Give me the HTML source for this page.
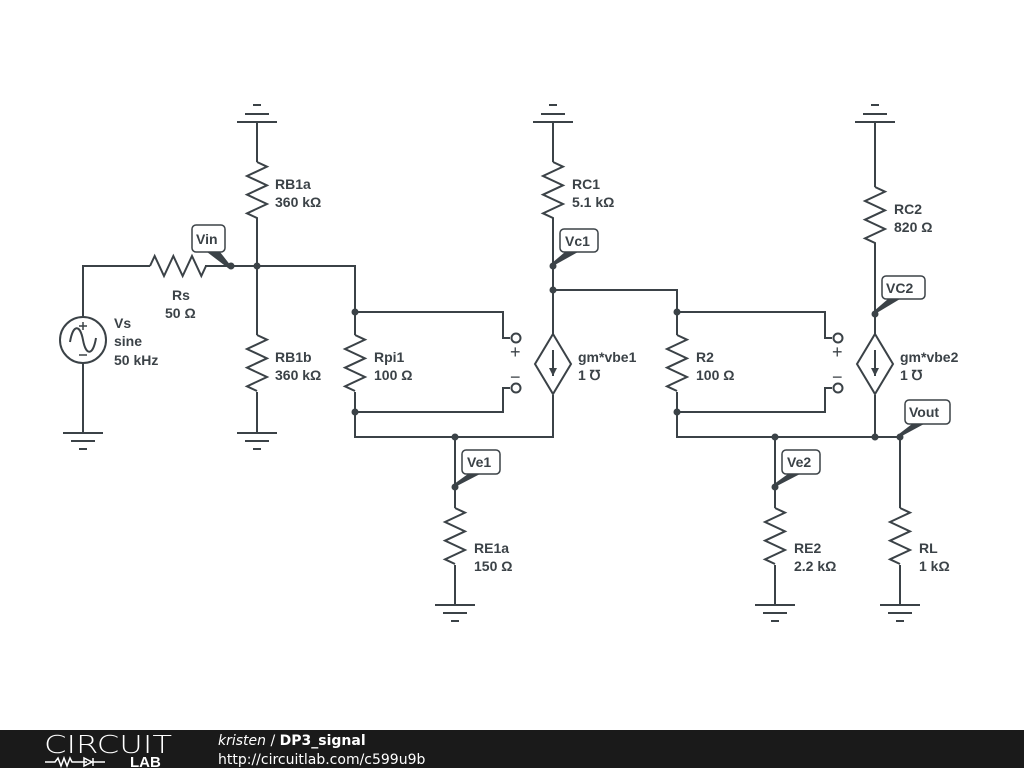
<!DOCTYPE html>
<html><head><meta charset="utf-8"><style>
body{margin:0;background:#fff;width:1024px;height:768px;overflow:hidden;font-family:"Liberation Sans",sans-serif}
svg{position:absolute;left:0;top:0}
</style></head><body>
<svg width="1024" height="768" viewBox="0 0 1024 768">
<g fill="none" stroke="#3b4247" stroke-width="2" stroke-linejoin="miter">
<path d="M253 105h8M245 114h24M237 122h40M257 122V162"/>
<path d="M549 105h8M541 114h24M533 122h40M553 122V162"/>
<path d="M871 105h8M863 114h24M855 122h40M875 122V187"/>
<path d="M63 433h40M71 441h24M79 449h8M83 433V363"/>
<path d="M237 433h40M245 441h24M253 449h8M257 433V392"/>
<path d="M435 605h40M443 613h24M451 621h8M455 605V565"/>
<path d="M755 605h40M763 613h24M771 621h8M775 605V565"/>
<path d="M880 605h40M888 613h24M896 621h8M900 605V565"/>
<path d="M257 162 l10,4.67 l-20,9.33 l20,9.33 l-20,9.33 l20,9.33 l-20,9.33 l10,4.67 V335"/>
<path d="M257 335 l10,4.67 l-20,9.33 l20,9.33 l-20,9.33 l20,9.33 l-20,9.33 l10,4.67"/>
<path d="M355 335 l10,4.67 l-20,9.33 l20,9.33 l-20,9.33 l20,9.33 l-20,9.33 l10,4.67"/>
<path d="M553 162 l10,4.67 l-20,9.33 l20,9.33 l-20,9.33 l20,9.33 l-20,9.33 l10,4.67 V334"/>
<path d="M677 335 l10,4.67 l-20,9.33 l20,9.33 l-20,9.33 l20,9.33 l-20,9.33 l10,4.67"/>
<path d="M875 187 l10,4.67 l-20,9.33 l20,9.33 l-20,9.33 l20,9.33 l-20,9.33 l10,4.67 V334"/>
<path d="M455 508 l10,4.67 l-20,9.33 l20,9.33 l-20,9.33 l20,9.33 l-20,9.33 l10,4.67"/>
<path d="M775 508 l10,4.67 l-20,9.33 l20,9.33 l-20,9.33 l20,9.33 l-20,9.33 l10,4.67"/>
<path d="M900 508 l10,4.67 l-20,9.33 l20,9.33 l-20,9.33 l20,9.33 l-20,9.33 l10,4.67"/>
<path d="M150 266 l4.67,-10 l9.33,20 l9.33,-20 l9.33,20 l9.33,-20 l9.33,20 l4.67,-10"/>
<path d="M83 317V266H150M205 266H355V335"/>
<circle cx="83" cy="340" r="23"/>
<path d="M70 342 c3,-18 10,-18 13,-2 s10,16 13,-2" />
<path d="M79 326h8M83 322v8M79 355h8" stroke-width="1.5"/>
<path d="M355 392V437H553V395M355 312H503V333M355 412H503V392M455 437V508M553 290H677V335"/>
<circle cx="516" cy="338" r="4.5"/><path d="M503 333v5h7M503 392v-4h7"/>
<circle cx="516" cy="388" r="4.5"/>
<path d="M553 334 l18 30 l-18 30 l-18 -30z"/>
<path d="M553 350v26"/>
<path d="M677 392V437H900V508M677 312H825V333M677 412H825V392M775 437V508M875 395V437"/>
<path d="M825 333v5h7M825 392v-4h7"/>
<circle cx="838" cy="338" r="4.5"/><circle cx="838" cy="388" r="4.5"/>
<path d="M875 334 l18 30 l-18 30 l-18 -30z"/>
<path d="M875 350v26"/>
<g fill="#fff" stroke-width="1.5">
<rect x="192" y="225" width="33" height="27" rx="4"/>
<rect x="560" y="229" width="38" height="23" rx="4"/>
<rect x="462" y="450" width="38" height="24" rx="4"/>
<rect x="882" y="276" width="43" height="23" rx="4"/>
<rect x="782" y="450" width="38" height="24" rx="4"/>
<rect x="905" y="400" width="45" height="24" rx="4"/>
</g>
</g>
<g fill="#3b4247">
<polygon points="553,376 549,368 557,368"/>
<polygon points="875,376 871,368 879,368"/>
<polygon points="207,252 220,252 231,266 228,268"/>
<polygon points="565,252 578,252 553,266 552,263"/>
<polygon points="468,474 480,474 455,487 454,484"/>
<polygon points="888,299 900,299 875,314 874,311"/>
<polygon points="788,474 800,474 775,487 774,484"/>
<polygon points="912,424 924,424 900,437 899,434"/>
<circle cx="231" cy="266" r="3.5"/><circle cx="257" cy="266" r="3.5"/>
<circle cx="355" cy="312" r="3.5"/><circle cx="355" cy="412" r="3.5"/>
<circle cx="455" cy="437" r="3.5"/><circle cx="455" cy="487" r="3.5"/>
<circle cx="553" cy="266" r="3.5"/><circle cx="553" cy="290" r="3.5"/>
<circle cx="677" cy="312" r="3.5"/><circle cx="677" cy="412" r="3.5"/>
<circle cx="775" cy="437" r="3.5"/><circle cx="775" cy="487" r="3.5"/>
<circle cx="875" cy="314" r="3.5"/><circle cx="875" cy="437" r="3.5"/><circle cx="900" cy="437" r="3.5"/>
</g>
<g font-family="Liberation Sans, sans-serif" font-size="14" font-weight="bold" fill="#3b4247">
<text x="275" y="189">RB1a</text><text x="275" y="207">360 kΩ</text>
<text x="275" y="362">RB1b</text><text x="275" y="380">360 kΩ</text>
<text x="172" y="300">Rs</text><text x="165" y="318">50 Ω</text>
<text x="114" y="328">Vs</text><text x="114" y="346">sine</text><text x="114" y="365">50 kHz</text>
<text x="374" y="362">Rpi1</text><text x="374" y="380">100 Ω</text>
<text x="572" y="189">RC1</text><text x="572" y="207">5.1 kΩ</text>
<text x="578" y="362">gm*vbe1</text><text x="578" y="380">1 ℧</text>
<text x="696" y="362">R2</text><text x="696" y="380">100 Ω</text>
<text x="894" y="214">RC2</text><text x="894" y="232">820 Ω</text>
<text x="900" y="362">gm*vbe2</text><text x="900" y="380">1 ℧</text>
<text x="474" y="553">RE1a</text><text x="474" y="571">150 Ω</text>
<text x="794" y="553">RE2</text><text x="794" y="571">2.2 kΩ</text>
<text x="919" y="553">RL</text><text x="919" y="571">1 kΩ</text>
<text x="196" y="244">Vin</text>
<text x="565" y="246">Vc1</text>
<text x="467" y="467">Ve1</text>
<text x="886" y="293">VC2</text>
<text x="787" y="467">Ve2</text>
<text x="909" y="417">Vout</text>
</g>
<g font-family="Liberation Sans, sans-serif" font-size="18" fill="#3b4247">
<text x="510" y="358">+</text><text x="510" y="383">−</text>
<text x="832" y="358">+</text><text x="832" y="383">−</text>
</g>
<rect x="0" y="730" width="1024" height="38" fill="#1a1a1a"/>
<text x="44" y="753" font-family="DejaVu Sans, sans-serif" font-size="25" fill="#fff" font-weight="200" textLength="128" lengthAdjust="spacingAndGlyphs">CIRCUIT</text>
<path d="M45 762h10l3-4 3 8 3-8 3 8 3-8 2 4h15M84 758v8l8-4zM93 758v8M93 762h12" stroke="#fff" stroke-width="1.5" fill="none"/>
<text x="130" y="767" font-family="Liberation Sans, sans-serif" font-size="15" font-weight="bold" fill="#fff">LAB</text>
<text x="218" y="745" font-family="DejaVu Sans, sans-serif" font-size="14" fill="#fff"><tspan font-style="italic">kristen</tspan> / <tspan font-weight="bold">DP3_signal</tspan></text>
<text x="218" y="764" font-family="DejaVu Sans, sans-serif" font-size="14" fill="#fff">http://circuitlab.com/c599u9b</text>
</svg>
</body></html>
